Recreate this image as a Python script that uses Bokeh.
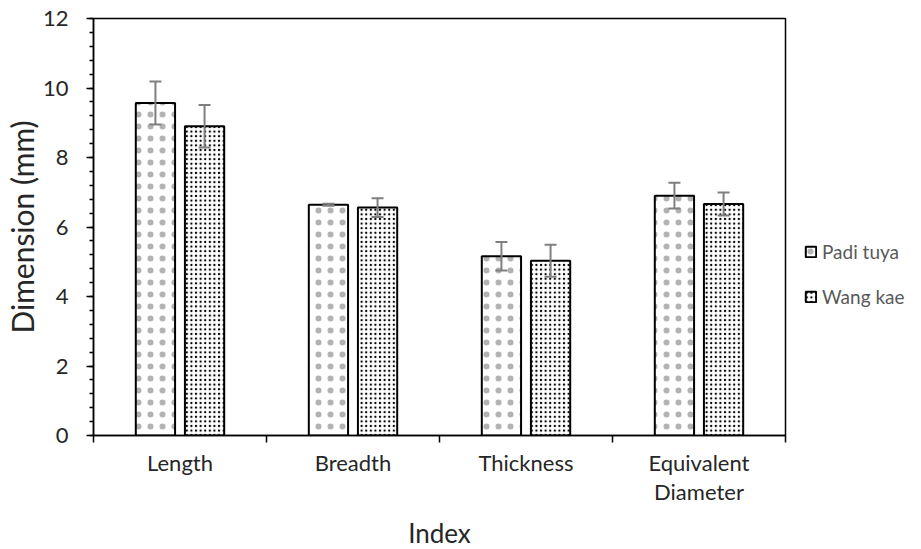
from bokeh.plotting import figure
from bokeh.models import (ColumnDataSource, Range1d, FixedTicker, SingleIntervalTicker,
                          Whisker, Legend, LegendItem, TeeHead)
from bokeh.transform import dodge
from bokeh.embed import file_html
from bokeh.resources import INLINE

categories = ["Length", "Breadth", "Thickness", "Equivalent Diameter"]
tick_labels = ["Length", "Breadth", "Thickness", "Equivalent\nDiameter"]
series = ["Padi tuya", "Wang kae"]
padi_tuya = [9.57, 6.64, 5.16, 6.90]
padi_tuya_err = [0.62, 0.03, 0.41, 0.37]
wang_kae = [8.90, 6.56, 5.03, 6.66]
wang_kae_err = [0.61, 0.27, 0.46, 0.33]

FONT = "Lato"
OFF = 0.142
BAR_W = 0.227

x = [i + 0.5 for i in range(len(categories))]
src = ColumnDataSource(dict(
    x=x,
    padi=padi_tuya, wang=wang_kae,
    padi_lo=[v - e for v, e in zip(padi_tuya, padi_tuya_err)],
    padi_hi=[v + e for v, e in zip(padi_tuya, padi_tuya_err)],
    wang_lo=[v - e for v, e in zip(wang_kae, wang_kae_err)],
    wang_hi=[v + e for v, e in zip(wang_kae, wang_kae_err)],
))

p = figure(frame_width=692, frame_height=417,
           x_range=Range1d(0, len(categories)), y_range=Range1d(0, 12),
           output_backend="svg", toolbar_location=None,
           min_border_left=93, min_border_right=136, min_border_top=18, min_border_bottom=114)
p.xgrid.visible = False
p.ygrid.visible = False
p.outline_line_color = "black"
p.outline_line_width = 1.5
p.background_fill_color = "white"

r1 = p.vbar(x=dodge('x', -OFF, range=p.x_range), top='padi', width=BAR_W, source=src,
            fill_color="white", line_color="black", line_width=2,
            hatch_pattern="dot", hatch_color="black", hatch_scale=12, hatch_weight=0.5,
            hatch_alpha=0.3)
r2 = p.vbar(x=dodge('x', OFF, range=p.x_range), top='wang', width=BAR_W, source=src,
            fill_color="white", line_color="black", line_width=2,
            hatch_pattern="dot", hatch_color="black", hatch_scale=4.6, hatch_weight=1.2)

ERR = "#7f7f7f"
for base, lo, hi in [(dodge('x', -OFF, range=p.x_range), 'padi_lo', 'padi_hi'),
                     (dodge('x', OFF, range=p.x_range), 'wang_lo', 'wang_hi')]:
    w = Whisker(base=base, lower=lo, upper=hi, source=src, line_color=ERR, line_width=2,
                level="overlay",
                upper_head=TeeHead(size=12, line_color=ERR, line_width=2),
                lower_head=TeeHead(size=12, line_color=ERR, line_width=2))
    p.add_layout(w)

# x axis
xa = p.xaxis[0]
xa.ticker = FixedTicker(ticks=x, minor_ticks=[float(i) for i in range(len(categories) + 1)])
xa.major_label_overrides = {xi: lab for xi, lab in zip(x, tick_labels)}
xa.major_tick_line_color = None
xa.major_tick_out = 0
xa.major_tick_in = 0
xa.minor_tick_out = 7
xa.minor_tick_in = 0
xa.minor_tick_line_color = "black"
xa.minor_tick_line_width = 1.5
xa.axis_line_color = "black"
xa.axis_line_width = 1.5
xa.major_label_text_font = FONT
xa.major_label_text_font_size = "22px"
xa.major_label_text_line_height = 1.1
xa.major_label_text_color = "#262626"
xa.major_label_standoff = 6
xa.axis_label = "Index"
xa.axis_label_text_font = FONT
xa.axis_label_text_font_size = "26px"
xa.axis_label_text_font_style = "normal"
xa.axis_label_text_color = "#262626"
xa.axis_label_standoff = 9

# y axis
ya = p.yaxis[0]
ya.ticker = SingleIntervalTicker(interval=2, num_minor_ticks=5)
ya.major_tick_out = 7
ya.major_tick_in = 0
ya.minor_tick_out = 4
ya.minor_tick_in = 0
ya.major_tick_line_width = 1.5
ya.minor_tick_line_width = 1.5
ya.major_tick_line_color = "black"
ya.minor_tick_line_color = "black"
ya.axis_line_color = "black"
ya.axis_line_width = 1.5
ya.major_label_text_font = FONT
ya.major_label_text_font_size = "22px"
ya.major_label_text_color = "#262626"
ya.major_label_standoff = 18
ya.axis_label = "Dimension (mm)"
ya.axis_label_text_font = FONT
ya.axis_label_text_font_size = "30px"
ya.axis_label_text_font_style = "normal"
ya.axis_label_text_color = "#262626"
ya.axis_label_standoff = 0

legend = Legend(items=[LegendItem(label=series[0], renderers=[r1]),
                       LegendItem(label=series[1], renderers=[r2])],
                location=(19, 127), orientation="vertical",
                border_line_color=None, background_fill_alpha=0,
                label_text_font=FONT, label_text_font_size="19px", label_text_color="#595959",
                glyph_width=13, glyph_height=13, spacing=22, padding=0, margin=0,
                label_standoff=5)
p.add_layout(legend, "right")

open("out.html", "w").write(file_html(p, INLINE))
